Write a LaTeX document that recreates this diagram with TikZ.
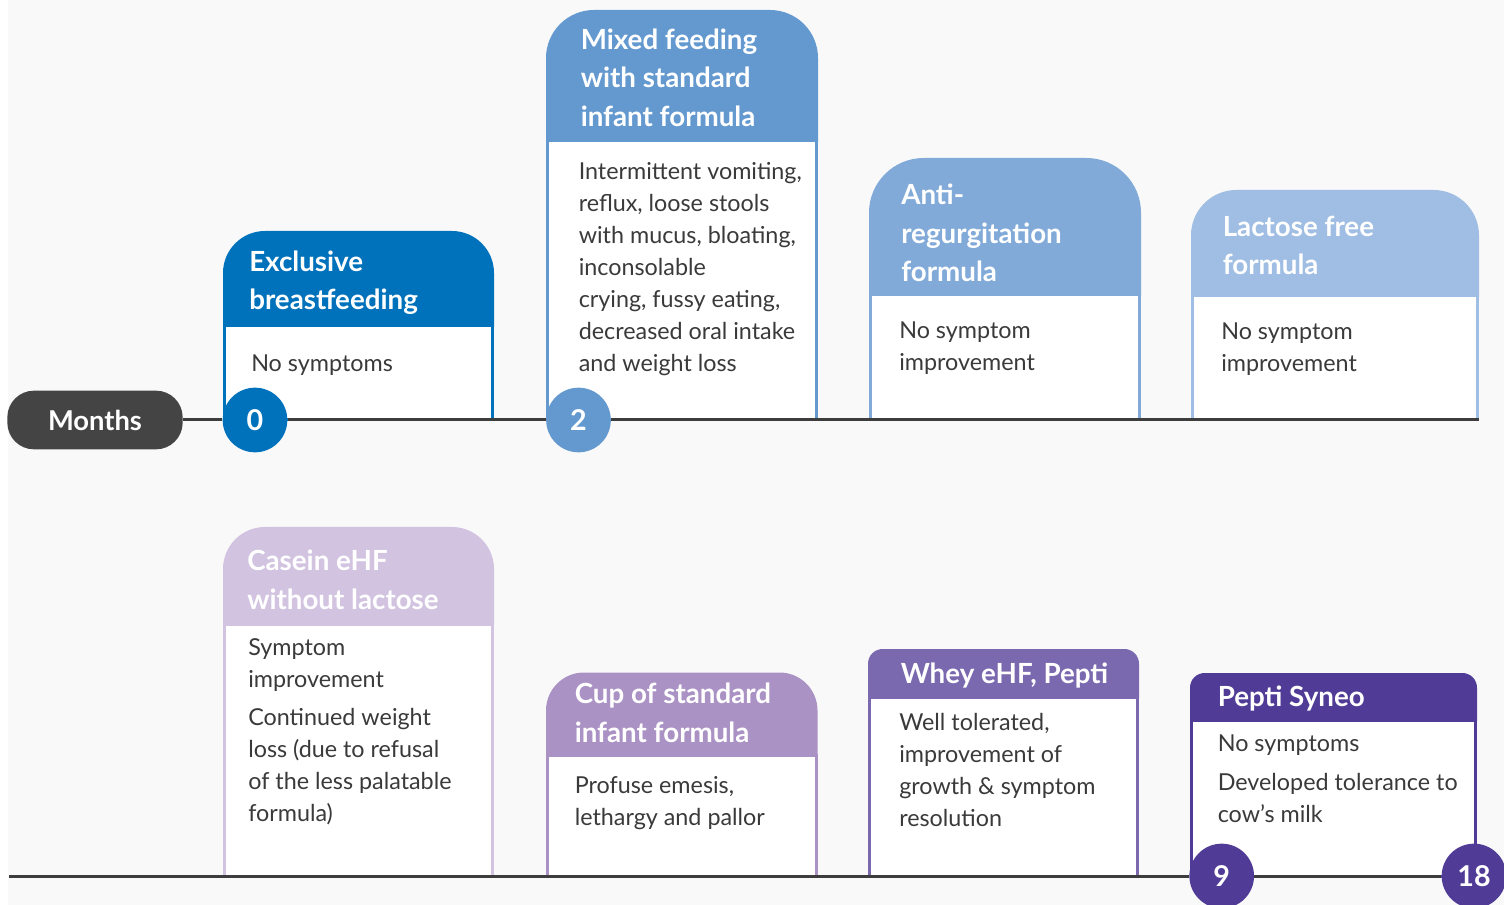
\documentclass[tikz,border=0pt]{standalone}
\usepackage{fontspec}
\setmainfont{Lato}

\definecolor{bgGray}{HTML}{F9F9F9}
\definecolor{pillGray}{HTML}{444444}
\definecolor{lineGray}{HTML}{3D3D3D}
\definecolor{textGray}{HTML}{3A3A3A}
\definecolor{blueA}{HTML}{0072BB}
\definecolor{blueB}{HTML}{6499D0}
\definecolor{blueC}{HTML}{81AAD9}
\definecolor{blueD}{HTML}{A0BDE3}
\definecolor{lilacA}{HTML}{D2C4E1}
\definecolor{lilacB}{HTML}{AA92C5}
\definecolor{purpleA}{HTML}{7A69AF}
\definecolor{purpleB}{HTML}{503C97}

% text nodes sit on the baseline of their last line
\tikzset{
  timeline/.style={draw=lineGray, line width=2.25pt},
  cardbody/.style={fill=white, line width=2.25pt},
  headtxt/.style={text=white, font=\bfseries\fontsize{20.8}{28.9}\selectfont,
    align=left, inner sep=0pt, anchor=base west},
  bodytxt/.style={text=textGray, font=\fontsize{17.5}{24}\selectfont,
    align=left, inner sep=0pt, anchor=base west},
  pill/.style={fill=pillGray, rounded corners=20pt, minimum width=131.5pt,
    minimum height=44pt, text=white, font=\bfseries\fontsize{20.5}{20.5}\selectfont},
  month/.style={circle, minimum size=48.5pt, inner sep=0pt, text=white,
    font=\bfseries\fontsize{21.5}{21.5}\selectfont},
}

\begin{document}
\begin{tikzpicture}[x=0.75pt, y=-0.75pt]
\useasboundingbox (0,0) rectangle (1504,905);
\fill[white] (0,0) rectangle (1504,905);
\fill[bgGray] (8,0) rectangle (1504,905);

% Exclusive breastfeeding
\draw[cardbody, draw=blueA] (224.5,326) rectangle (492.5,420);
\fill[blueA] (223,327) [rounded corners=31.5pt] -- (223,231) -- (494,231) [sharp corners] -- (494,327) -- cycle;
\node[headtxt] (hBreast) at (249,310) {Exclusive\\breastfeeding};
\node[bodytxt] (bBreast) at (251,371.5) {No symptoms};

% Mixed feeding
\draw[cardbody, draw=blueB] (547.5,141) rectangle (816.5,420);
\fill[blueB] (546,142) [rounded corners=36pt] -- (546,10) -- (818,10) [sharp corners] -- (818,142) -- cycle;
\node[headtxt] (hMixed) at (580.5,126.5) {Mixed feeding\\with standard\\infant formula};
\node[bodytxt] (bMixed) at (578.5,371.5) {Intermittent vomiting,\\reflux, loose stools\\with mucus, bloating,\\inconsolable\\crying, fussy eating,\\decreased oral intake\\and weight loss};

% Anti-regurgitation
\draw[cardbody, draw=blueC] (870.5,295) rectangle (1139.5,420);
\fill[blueC] (869,296) [rounded corners=41pt] -- (869,158) -- (1141,158) [sharp corners] -- (1141,296) -- cycle;
\node[headtxt] (hAR) at (901,282) {Anti-\\regurgitation\\formula};
\node[bodytxt] (bAR) at (899,371) {No symptom\\improvement};

% Lactose free
\draw[cardbody, draw=blueD] (1192.5,296) rectangle (1477.5,420);
\fill[blueD] (1191,297) [rounded corners=34pt] -- (1191,190) -- (1479,190) [sharp corners] -- (1479,297) -- cycle;
\node[headtxt] (hLF) at (1222.5,275) {Lactose free\\formula};
\node[bodytxt] (bLF) at (1221,371.5) {No symptom\\improvement};

% Casein eHF
\draw[cardbody, draw=lilacA] (224.5,624) rectangle (492.5,876);
\fill[lilacA] (223,625) [rounded corners=31.5pt] -- (223,527) -- (494,527) [sharp corners] -- (494,625) -- cycle;
\node[headtxt] (hCasein) at (247,609.5) {Casein eHF\\without lactose};
\node[bodytxt] (bCasein) at (248,821.5) {Symptom\\improvement\\[4.5pt]Continued weight\\loss (due to refusal\\of the less palatable\\formula)};

% Cup of standard
\draw[cardbody, draw=lilacB] (547.5,755) rectangle (816,876);
\fill[lilacB] (546,756) [rounded corners=28.5pt] -- (546,672.5) -- (817.5,672.5) [sharp corners] -- (817.5,756) -- cycle;
\node[headtxt] (hCup) at (574.5,742.5) {Cup of standard\\infant formula};
\node[bodytxt] (bCup) at (574.5,825) {Profuse emesis,\\lethargy and pallor};

% Whey eHF
\draw[cardbody, draw=purpleA] (869.5,697) rectangle (1137.5,876);
\fill[purpleA] (868,698) [rounded corners=11pt] -- (868,649) -- (1139,649) [sharp corners] -- (1139,698) -- cycle;
\node[headtxt] (hWhey) at (900.5,683.5) {Whey eHF, Pepti};
\node[bodytxt] (bWhey) at (899,826.5) {Well tolerated,\\improvement of\\growth \& symptom\\resolution};

% Pepti Syneo
\draw[cardbody, draw=purpleB] (1191.5,720) rectangle (1475.5,876);
\fill[purpleB] (1190,721) [rounded corners=11pt] -- (1190,673) -- (1477,673) [sharp corners] -- (1477,721) -- cycle;
\node[headtxt] (hSyneo) at (1217.5,706.5) {Pepti Syneo};
\node[bodytxt] (bSyneo) at (1217.5,822.5) {No symptoms\\[5pt]Developed tolerance to\\cow’s milk};

% time line
\node[pill] (months) at (95,420) {Months};
\node[month, fill=blueA] (m0) at (255,420) {0};
\node[month, fill=blueB] (m2) at (578.5,420) {2};
\node[month, fill=purpleB] (m9) at (1221.7,876) {9};
\node[month, fill=purpleB] (m18) at (1474,876) {18};
\coordinate (topEnd) at (1479,420);
\coordinate (botStart) at (9,876);

\draw[timeline] (months) -- (m0) -- (m2) -- (topEnd);
\draw[timeline] (botStart) -- (m9) -- (m18);
\end{tikzpicture}
\end{document}
